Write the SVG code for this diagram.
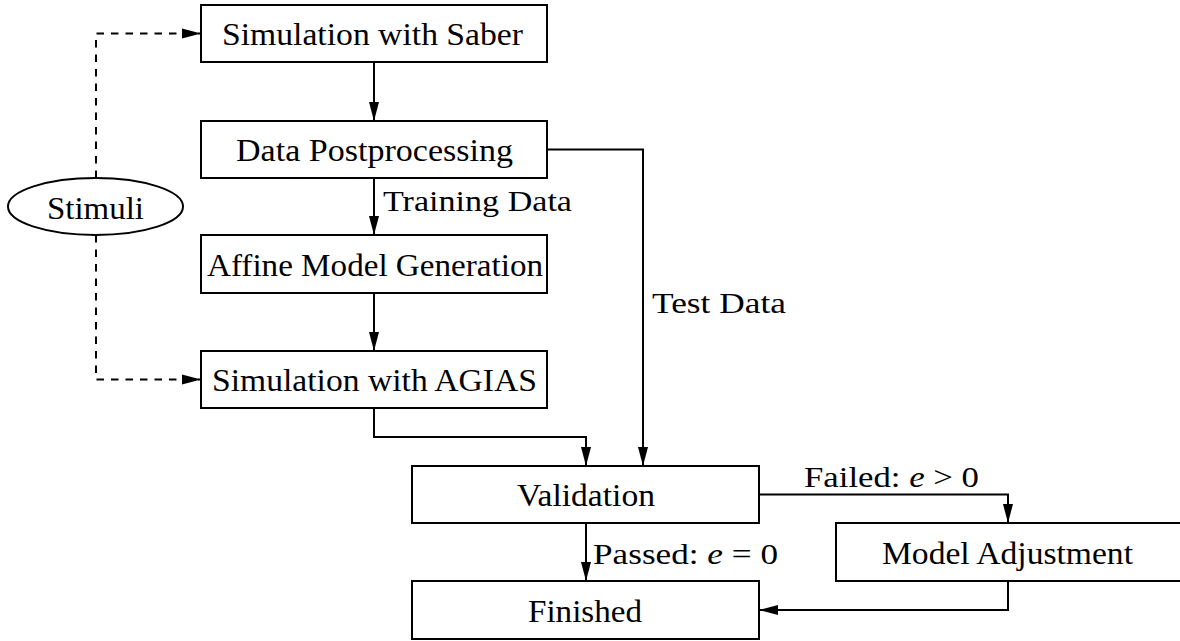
<svg xmlns="http://www.w3.org/2000/svg" width="1180" height="641" viewBox="0 0 1180 641">
<style>
.box{fill:#fff;stroke:#000;stroke-width:2}
.t{font-family:"Liberation Serif","DejaVu Serif",serif;font-size:31px;fill:#000}
.lbl{font-family:"Liberation Serif","DejaVu Serif",serif;font-size:29px;fill:#000}
.c{fill:none;stroke:#000;stroke-width:2;marker-end:url(#ah)}
.d{stroke-dasharray:7.5,7}
</style>
<defs>
<marker id="ah" markerUnits="userSpaceOnUse" markerWidth="19" markerHeight="11" refX="19" refY="5.5" orient="auto">
<path d="M0,0.5 L19,5.5 L0,10.5 z" fill="#000"/>
</marker>
</defs>
<rect width="1180" height="641" fill="#fff"/>
<g id="connectors">
<path class="c" d="M374,62 V121"/>
<path class="c" d="M374,178 V235"/>
<path class="c" d="M374,293 V351"/>
<path class="c" d="M374,408 V437 H586 V466"/>
<path class="c" d="M547,149.5 H643 V466"/>
<path class="c" d="M586,523 V581"/>
<path class="c" d="M759,494.5 H1008 V523"/>
<path class="c" d="M1008,581 V610 H759"/>
<path class="c d" d="M96,178 V33.5 H201"/>
<path class="c d" d="M96,235 V379.5 H201"/>
<text class="lbl" x="383" y="211" textLength="189" lengthAdjust="spacingAndGlyphs">Training Data</text>
<text class="lbl" x="652" y="313" textLength="134" lengthAdjust="spacingAndGlyphs">Test Data</text>
<text class="lbl" x="593" y="564" textLength="185" lengthAdjust="spacingAndGlyphs">Passed: <tspan font-style="italic">e</tspan> = 0</text>
<text class="lbl" x="804" y="487" textLength="175" lengthAdjust="spacingAndGlyphs">Failed: <tspan font-style="italic">e</tspan> &gt; 0</text>
</g>
<g id="stimuli">
<ellipse class="box" cx="95.5" cy="206.5" rx="87.5" ry="28.5"/>
<text class="t" x="47" y="219" textLength="97" lengthAdjust="spacingAndGlyphs">Stimuli</text>
</g>
<g id="sim-saber">
<rect class="box" x="201" y="5" width="346" height="57"/>
<text class="t" x="222" y="45" textLength="301" lengthAdjust="spacingAndGlyphs">Simulation with Saber</text>
</g>
<g id="data-post">
<rect class="box" x="201" y="121" width="346" height="57"/>
<text class="t" x="236" y="161" textLength="277" lengthAdjust="spacingAndGlyphs">Data Postprocessing</text>
</g>
<g id="affine">
<rect class="box" x="201" y="235" width="346" height="58"/>
<text class="t" x="207" y="275.5" textLength="336" lengthAdjust="spacingAndGlyphs">Affine Model Generation</text>
</g>
<g id="sim-agias">
<rect class="box" x="201" y="351" width="346" height="57"/>
<text class="t" x="212" y="391" textLength="325" lengthAdjust="spacingAndGlyphs">Simulation with AGIAS</text>
</g>
<g id="validation">
<rect class="box" x="412" y="466" width="347" height="57"/>
<text class="t" x="517" y="506" textLength="138" lengthAdjust="spacingAndGlyphs">Validation</text>
</g>
<g id="model-adj">
<rect class="box" x="836" y="523" width="346" height="58"/>
<text class="t" x="882" y="563.5" textLength="251" lengthAdjust="spacingAndGlyphs">Model Adjustment</text>
</g>
<g id="finished">
<rect class="box" x="412" y="581" width="347" height="58"/>
<text class="t" x="528" y="621.5" textLength="114" lengthAdjust="spacingAndGlyphs">Finished</text>
</g>
</svg>
